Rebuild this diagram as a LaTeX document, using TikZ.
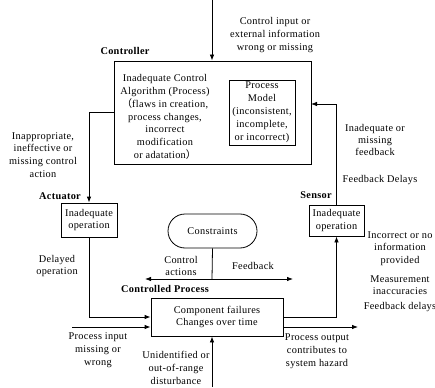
\documentclass[tikz,border=0pt]{standalone}
\usepackage{fontspec}
\setmainfont{Liberation Serif}[LetterSpace=3]
\newfontfamily\cjk{Noto Sans CJK SC}
\usetikzlibrary{arrows.meta}
\begin{document}
\begin{tikzpicture}[x=1pt,y=-1pt,
  every node/.style={font=\fontsize{10.3}{12.9}\selectfont, inner sep=0pt, align=center},
  box/.style={draw, line width=0.8pt},
  lbl/.style={font=\fontsize{10.3}{12.9}\selectfont\bfseries},
  tight/.style={font=\fontsize{10.3}{12.4}\selectfont},
  conn/.style={line width=0.8pt},
  arr/.style={conn, -{Latex[length=6pt,width=4.5pt]}}]
\useasboundingbox (0,0) rectangle (435,387);
% boxes
\node[box, minimum width=197pt, minimum height=103pt] (ctrl) at (212.5,112.5) {};
\node[box, minimum width=66pt, minimum height=65pt] (pm) at (262,112.5) {Process\\Model\\(inconsistent,\\incomplete,\\or incorrect)};
\node[box, minimum width=56pt, minimum height=34pt] (act) at (89,220) {Inadequate\\operation};
\node[box, minimum width=55pt, minimum height=31pt] (sens) at (336.5,220.5) {Inadequate\\operation};
\node[box, minimum width=132pt, minimum height=38pt] (proc) at (217,317) {Component failures\\Changes over time};
\node[box, rounded corners=17pt, minimum width=89pt, minimum height=34pt] (cons) at (212.5,231) {Constraints};
% text in controller
\node (ctext) at (165,117) {Inadequate Control\\Algorithm (Process)\\{\cjk（}flaws in creation,\\process changes,\\incorrect\\modification\\or adatation{\cjk）}};
% labels
\node[lbl] (lctrl) at (125,51) {Controller};
\node[lbl] (lact) at (60,196) {Actuator};
\node[lbl] (lsens) at (316,195) {Sensor};
\node[lbl] (lproc) at (165,289) {Controlled Process};
\node (t1) at (275,35) {Control input or\\external information\\wrong or missing};
\node (t2) at (43,155) {Inappropriate,\\ineffective or\\missing control\\action};
\node (t3) at (57,266) {Delayed\\operation};
\node (t4) at (181,266) {Control\\actions};
\node (t5) at (253,266) {Feedback};
\node (t6) at (98,350) {Process input\\missing or\\wrong};
\node (t7) at (176,368) {Unidentified or\\out-of-range\\disturbance};
\node (t8) at (317,351) {Process output\\contributes to\\system hazard};
\node[tight] (t9) at (375,140) {Inadequate or\\missing\\feedback};
\node (t10) at (380,180) {Feedback Delays};
\node[tight] (t11) at (400,248.5) {Incorrect or no\\information\\provided};
\node[tight] (t12) at (400,285) {Measurement\\inaccuracies};
\node (t13) at (400,307.5) {Feedback delays};
% coordinates
\coordinate (top) at (212,0);
\coordinate (pin) at (72,327);
\coordinate (dist) at (212,387);
\coordinate (pout) at (358,327);
\coordinate (hl) at (145,279);
\coordinate (hr) at (293,279);
\coordinate (hm) at (212,279);
\coordinate (fbin) at (311,104);
\coordinate (actout) at (114,112);
% connectors
\draw[arr] (top) -- (ctrl.north -| top);
\draw[arr] (actout) -| (act.north);
\draw[arr] (act.south) |- (proc.west);
\draw[arr] (pin) -- (pin -| proc.west);
\draw[arr] (dist) -- (dist |- proc.south);
\draw[arr] (pout -| proc.east) -- (pout);
\draw[arr] (proc.east |- 0,317) -| (sens.south);
\draw[arr] (sens.north) |- (fbin);
\draw[conn] (cons.south) -- (hm);
\draw[arr, {Latex[length=6pt,width=4.5pt]}-{Latex[length=6pt,width=4.5pt]}] (hl) -- (hr);
\end{tikzpicture}
\end{document}
